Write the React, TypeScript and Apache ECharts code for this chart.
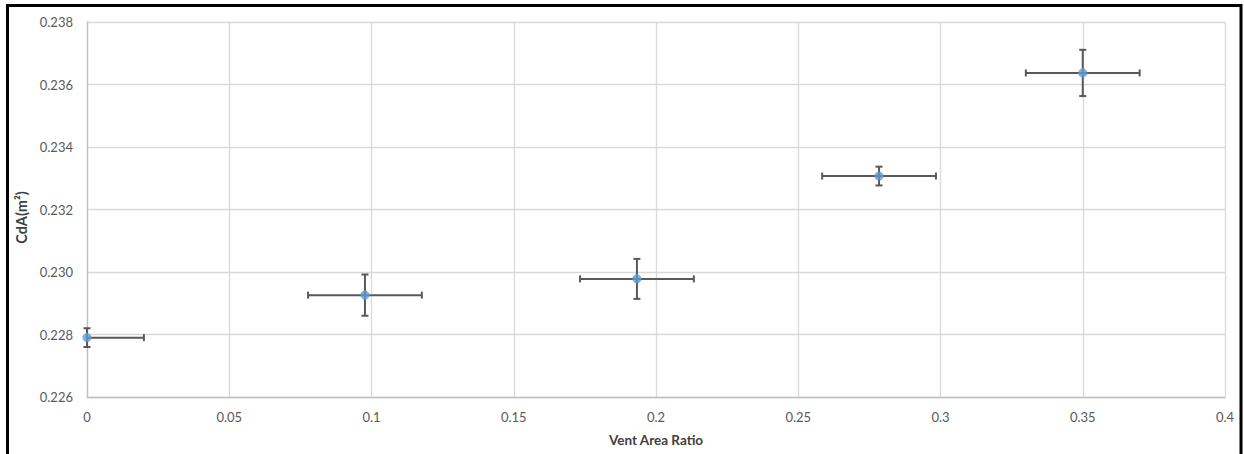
import React, { useEffect, useRef } from "react";
import * as echarts from "echarts";

const ventRatio = [0, 0.0977, 0.1933, 0.2784, 0.35];
const cda = [0.2279, 0.22926, 0.22978, 0.23307, 0.23637];
const xErr = [0.02, 0.02, 0.02, 0.02, 0.02];
const yErr = [0.0003, 0.00066, 0.00064, 0.0003, 0.00074];

const FONT = "Lato";
const LABEL_COLOR = "#595959";

export default function App() {
  const ref = useRef<HTMLDivElement>(null);
  useEffect(() => {
    if (!ref.current) return;
    const chart = echarts.init(ref.current, undefined, { renderer: "svg" });
    const points = ventRatio.map((x, i) => [x, cda[i]]);
    const errData = ventRatio.map((x, i) => [x, cda[i], xErr[i], yErr[i]]);
    const option: any = {
      animation: false,
      grid: { left: 87, right: 19, top: 22, bottom: 57 },
      graphic: [
        {
          type: "rect",
          silent: true,
          shape: { x: 7.5, y: 5.5, width: 1233.5, height: 600 },
          style: { fill: "none", stroke: "#000", lineWidth: 3 },
        },
      ],
      xAxis: {
        type: "value",
        min: 0,
        max: 0.4,
        interval: 0.05,
        axisLine: { show: true, onZero: false, lineStyle: { color: "#BFBFBF", width: 1.3 } },
        axisTick: { show: false },
        splitLine: { show: true, lineStyle: { color: "#D9D9D9", width: 1.3 } },
        axisLabel: {
          color: LABEL_COLOR,
          fontFamily: FONT,
          fontSize: 13,
          margin: 13,
          formatter: (v: number) => String(parseFloat(v.toFixed(2))),
        },
        name: "Vent Area Ratio",
        nameLocation: "middle",
        nameGap: 36,
        nameTextStyle: { color: "#404040", fontFamily: FONT, fontSize: 13.5, fontWeight: "bold" },
      },
      yAxis: {
        type: "value",
        min: 0.226,
        max: 0.238,
        interval: 0.002,
        axisLine: { show: true, onZero: false, lineStyle: { color: "#BFBFBF", width: 1.3 } },
        axisTick: { show: false },
        splitLine: { show: true, lineStyle: { color: "#D9D9D9", width: 1.3 } },
        axisLabel: {
          color: LABEL_COLOR,
          fontFamily: FONT,
          fontSize: 13,
          margin: 14,
          formatter: (v: number) => v.toFixed(3),
        },
        name: "CdA(m²)",
        nameLocation: "middle",
        nameGap: 54,
        nameRotate: 90,
        nameTextStyle: {
          color: "#404040",
          fontFamily: FONT,
          fontSize: 14.5,
          fontWeight: "bold",
          padding: [0, 16, 0, 0],
        },
      },
      series: [
        {
          type: "custom",
          z: 2,
          data: errData,
          renderItem: (params: any, api: any) => {
            const x = api.value(0);
            const y = api.value(1);
            const ex = api.value(2);
            const ey = api.value(3);
            const cs = params.coordSys;
            const left = api.coord([x - ex, y]);
            const right = api.coord([x + ex, y]);
            const top = api.coord([x, y + ey]);
            const bottom = api.coord([x, y - ey]);
            const lx = Math.max(left[0], cs.x);
            const rx = Math.min(right[0], cs.x + cs.width);
            const style = { stroke: "#595959", lineWidth: 2 };
            const cap = 3.5;
            const children: any[] = [
              { type: "line", shape: { x1: lx, y1: left[1], x2: rx, y2: right[1] }, style },
              { type: "line", shape: { x1: top[0], y1: top[1], x2: bottom[0], y2: bottom[1] }, style },
              { type: "line", shape: { x1: top[0] - cap, y1: top[1], x2: top[0] + cap, y2: top[1] }, style },
              { type: "line", shape: { x1: bottom[0] - cap, y1: bottom[1], x2: bottom[0] + cap, y2: bottom[1] }, style },
            ];
            if (left[0] >= cs.x) {
              children.push({ type: "line", shape: { x1: left[0], y1: left[1] - cap, x2: left[0], y2: left[1] + cap }, style });
            }
            if (right[0] <= cs.x + cs.width) {
              children.push({ type: "line", shape: { x1: right[0], y1: right[1] - cap, x2: right[0], y2: right[1] + cap }, style });
            }
            return { type: "group", children };
          },
        },
        {
          type: "scatter",
          z: 3,
          data: points,
          symbol: "circle",
          symbolSize: 9,
          itemStyle: { color: "#5B9BD5" },
        },
      ],
    };
    chart.setOption(option);
    return () => chart.dispose();
  }, []);
  return (
    <div
      ref={ref}
      style={{ position: "fixed", left: 0, top: 0, width: 1244, height: 454, background: "#fff" }}
    />
  );
}
